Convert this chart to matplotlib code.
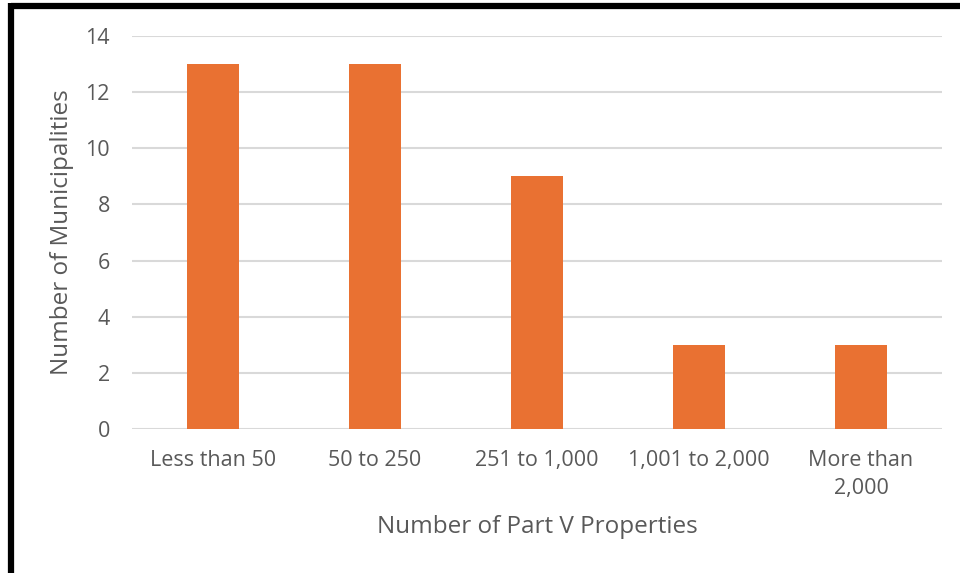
import matplotlib.pyplot as plt
from matplotlib.lines import Line2D

categories = ["Less than 50", "50 to 250", "251 to 1,000", "1,001 to 2,000", "More than\n2,000"]
counts = [13, 13, 9, 3, 3]

plt.rcParams['font.family'] = ['Open Sans', 'DejaVu Sans']

fig = plt.figure(figsize=(9.6, 5.73), dpi=100)
ax = fig.add_axes([132 / 960, 1 - 429 / 573, 810 / 960, 393 / 573])

ax.bar(range(len(categories)), counts, width=0.315, color="#E97132", zorder=3)

ax.set_xlim(-0.5, len(categories) - 0.5)
ax.set_ylim(0, 14)
ax.set_yticks(range(0, 15, 2))
ax.set_xticks(range(len(categories)))
ax.set_xticklabels(categories, linespacing=1.45)

ax.grid(axis='y', color="#d9d9d9", linewidth=1.5, zorder=0)
for s in ax.spines.values():
    s.set_visible(False)
ax.tick_params(length=0, labelsize=15.5, colors="#595959")
ax.tick_params(axis='x', pad=15)
ax.tick_params(axis='y', pad=16)

ax.set_xlabel("Number of Part V Properties", fontsize=17.5, color="#595959", va='center')
ax.xaxis.set_label_coords(0.5, (429 - 527) / 393)
ax.set_ylabel("Number of Municipalities", fontsize=17.5, color="#595959", va='center')
ax.yaxis.set_label_coords((62 - 132) / 810, 0.5)

# black frame along the top and left edges
fig.add_artist(Line2D([11 / 960, 1], [1 - 6 / 573, 1 - 6 / 573], color="black", linewidth=4.5,
                      solid_capstyle='butt', transform=fig.transFigure))
fig.add_artist(Line2D([11 / 960, 11 / 960], [0, 1 - 3 / 573], color="black", linewidth=4.5,
                      solid_capstyle='butt', transform=fig.transFigure))

fig.savefig("out.png", dpi=100)
